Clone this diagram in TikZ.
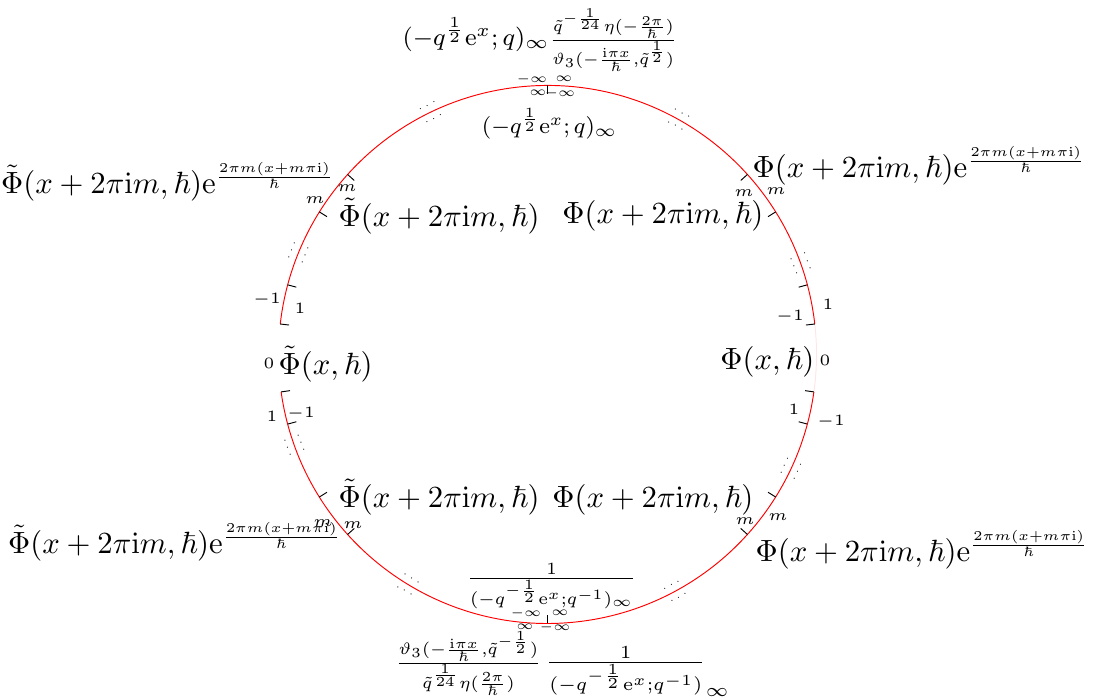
\documentclass[tikz,border=0pt]{standalone}
\usepackage{tikz}
\usepackage{amsmath, amsfonts}
\usetikzlibrary{positioning}

\newcommand{\efactor}{\mathrm{e}^{\scalebox{0.88}{$\scriptstyle\frac{2\pi m(x+m\pi\mathrm{i})}{\hbar}$}}}

\begin{document}
\begin{tikzpicture}[circ/.style = {red, line width=0.3pt},
        faint/.style = {red!10, line width=0.3pt},
        tickmark/.style = {black, line width=0.3pt},
        idx/.style = {font=\tiny, inner sep=0pt},
        inf/.style = {font=\tiny, inner sep=0pt, scale=0.8},
        dots/.style = {font=\tiny, inner sep=0pt, scale=0.6, black},
        fn/.style = {inner sep=0pt, scale=0.975},
        qfn/.style = {inner sep=0pt, font=\footnotesize, scale=0.975}]
    \useasboundingbox (-6.106,-3.831) rectangle (6.128,3.953);

    % the circle, open on the left and faint on the right
    \draw[circ] (6.5:3) arc[start angle=6.5, end angle=173.5, radius=3];
    \draw[circ] (188:3) arc[start angle=188, end angle=352, radius=3];
    \draw[faint] (352:3) arc[start angle=-8, end angle=6.5, radius=3];

    \foreach \a in {6.5, 15, 32, 42, 90, 138, 148, 165, 173.5, 188, 195, 212, 222, 270, 318, 328, 345, 352}
        \draw[tickmark] (\a:3) coordinate (t\a) -- (\a:2.9);

    \foreach \a in {21, 62, 117, 159, 201, 240, 299.5, 336}{
        \node[dots, rotate=\a] (di\a) at (\a:2.92) {$\vdots$};
        \node[dots, rotate=\a] (do\a) at (\a:3.08) {$\vdots$};
    }

    % index labels
    \foreach \x/\y/\t/\n in {3.128/0.563/1/r1, 2.704/0.418/-1/r2, 3.095/-0.061/0/r0,
            2.749/-0.608/1/r3, 3.162/-0.753/-1/r4, 2.191/1.801/m/r5, 2.548/1.823/m/r6,
            2.203/-1.857/m/r7, 2.571/-1.812/m/r8,
            -3.128/0.608/-1/l1, -2.760/0.519/1/l2, -3.106/-0.095/0/l0,
            -3.072/-0.686/1/l3, -2.749/-0.664/-1/l4, -2.593/1.723/m/l5, -2.236/1.857/m/l6,
            -2.504/-1.879/m/l7, -2.169/-1.901/m/l8}
        \node[idx] (\n) at (\x,\y) {$\t$};

    \foreach \x/\y/\t/\n in {-0.173/3.072/-\infty/u1, 0.184/3.072/\infty/u2,
            -0.106/2.916/\infty/u3, 0.139/2.916/-\infty/u4,
            -0.240/-2.883/-\infty/b1, 0.139/-2.883/\infty/b2,
            -0.251/-3.039/\infty/b3, 0.084/-3.039/-\infty/b4}
        \node[inf] (\n) at (\x,\y) {$\t$};

    % functions on each sector
    \node[qfn] (topout) at (-0.084,3.507) {$(-q^{\frac{1}{2}}\mathrm{e}^x;q)_\infty\scalebox{0.88}{$\frac{\tilde{q}^{-\frac{1}{24}}\eta(-\frac{2\pi}{\hbar})}{\vartheta_3(-\frac{\mathrm{i}\pi x}{\hbar},\tilde{q}^{\frac{1}{2}})}$}$};
    \node[qfn, scale=0.92] (topin) at (0.022,2.571) {$(-q^{\frac{1}{2}}\mathrm{e}^x;q)_\infty$};
    \node[qfn, scale=0.93] (botin) at (0.045,-2.582) {$\frac{1}{(-q^{-\frac{1}{2}}\mathrm{e}^x;q^{-1})_\infty}$};
    \node[qfn] (botout) at (0.17,-3.452) {$\scalebox{0.9}{$\frac{\vartheta_3(-\frac{\mathrm{i}\pi x}{\hbar},\tilde{q}^{-\frac{1}{2}})}{\tilde{q}^{\frac{1}{24}}\eta(\frac{2\pi}{\hbar})}$}\,\frac{1}{(-q^{-\frac{1}{2}}\mathrm{e}^x;q^{-1})}_\infty$};

    \node[fn, anchor=west] (ruout) at (2.281,2.102) {$\Phi(x+2\pi\mathrm{i}m,\hbar)\efactor$};
    \node[fn, anchor=east] (ruin) at (2.414,1.545) {$\Phi(x+2\pi\mathrm{i}m,\hbar)$};
    \node[fn, anchor=east] (rmid) at (2.983,-0.084) {$\Phi(x,\hbar)$};
    \node[fn, anchor=east] (rlin) at (2.303,-1.623) {$\Phi(x+2\pi\mathrm{i}m,\hbar)$};
    \node[fn, anchor=west] (rlout) at (2.314,-2.180) {$\Phi(x+2\pi\mathrm{i}m,\hbar)\efactor$};

    \node[fn, anchor=east] (luout) at (-2.370,1.924) {$\tilde{\Phi}(x+2\pi\mathrm{i}m,\hbar)\efactor$};
    \node[fn, anchor=west] (luin) at (-2.336,1.545) {$\tilde{\Phi}(x+2\pi\mathrm{i}m,\hbar)$};
    \node[fn, anchor=west] (lmid) at (-3.005,-0.106) {$\tilde{\Phi}(x,\hbar)$};
    \node[fn, anchor=west] (llin) at (-2.336,-1.589) {$\tilde{\Phi}(x+2\pi\mathrm{i}m,\hbar)$};
    \node[fn, anchor=east] (llout) at (-2.292,-2.091) {$\tilde{\Phi}(x+2\pi\mathrm{i}m,\hbar)\efactor$};
\end{tikzpicture}
\end{document}
